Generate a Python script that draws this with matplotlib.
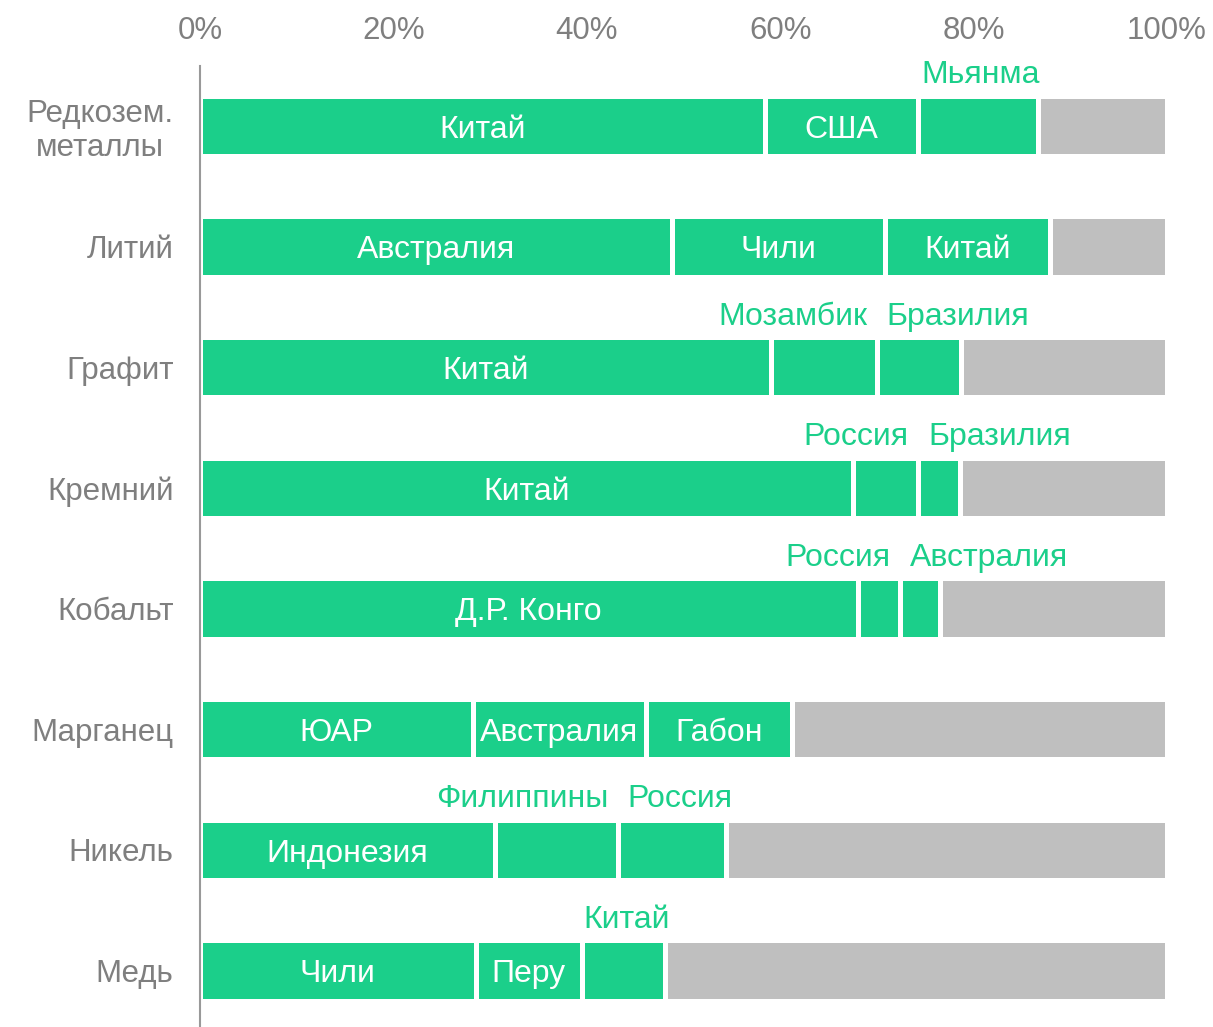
import matplotlib.pyplot as plt

plt.rcParams['font.family'] = ['Liberation Sans', 'DejaVu Sans']

green = '#1bcf8a'
grey = '#bfbfbf'
text_grey = '#7f7f7f'

categories = ['Редкозем.\nметаллы', 'Литий', 'Графит', 'Кремний',
              'Кобальт', 'Марганец', 'Никель', 'Медь']
# top three producers' shares, %
shares = [
    [58.4, 15.8, 12.5],
    [48.8, 22.0, 17.1],
    [59.1, 10.9, 8.7],
    [67.5, 6.8, 4.3],
    [68.0, 4.4, 4.1],
    [28.2, 17.9, 15.1],
    [30.5, 12.7, 11.2],
    [28.5, 11.0, 8.6],
]
countries = [
    ['Китай', 'США', 'Мьянма'],
    ['Австралия', 'Чили', 'Китай'],
    ['Китай', 'Мозамбик', 'Бразилия'],
    ['Китай', 'Россия', 'Бразилия'],
    ['Д.Р. Конго', 'Россия', 'Австралия'],
    ['ЮАР', 'Австралия', 'Габон'],
    ['Индонезия', 'Филиппины', 'Россия'],
    ['Чили', 'Перу', 'Китай'],
]
# which labels sit above the bar instead of inside
outside = [
    [False, False, True],
    [False, False, False],
    [False, True, True],
    [False, True, True],
    [False, True, True],
    [False, False, False],
    [False, True, True],
    [False, False, True],
]

fig = plt.figure(figsize=(12.13, 10.27), dpi=100)
ax = fig.add_axes([200/1213, -4/1027, 967/1213, 965.4/1027])

h = 0.5
fs = 23
for i in range(len(categories)):
    left = 0
    lefts = []
    for s in shares[i]:
        ax.barh(i, s, left=left, height=h, color=green, edgecolor='white', linewidth=3.6)
        lefts.append(left)
        left += s
    ax.barh(i, 100 - left, left=left, height=h, color=grey, edgecolor='white', linewidth=3.6)

    outs = [j for j in range(3) if outside[i][j]]
    for j in range(3):
        c = lefts[j] + shares[i][j] / 2
        if not outside[i][j]:
            ax.text(c, i + 0.03, countries[i][j], ha='center', va='center',
                    color='white', fontsize=fs)
        elif len(outs) == 2:
            b = lefts[outs[1]]
            if j == outs[0]:
                ax.text(b - 1.0, i - 0.42, countries[i][j], ha='right', va='center',
                        color=green, fontsize=fs)
            else:
                ax.text(b + 1.0, i - 0.42, countries[i][j], ha='left', va='center',
                        color=green, fontsize=fs)
        else:
            ax.text(c + 0.3, i - 0.42, countries[i][j], ha='center', va='center',
                    color=green, fontsize=fs)

ax.set_xlim(0, 100)
ax.set_ylim(7.5, -0.5)
ax.xaxis.tick_top()
ax.set_xticks(range(0, 101, 20))
ax.set_xticklabels([f'{t}%' for t in range(0, 101, 20)])
ax.set_yticks(range(len(categories)))
ax.set_yticklabels(categories, linespacing=1.15, multialignment='center')
ax.tick_params(axis='x', length=0, pad=14, labelsize=22.5, labelcolor=text_grey)
ax.tick_params(axis='y', length=0, pad=19, labelsize=22.5, labelcolor=text_grey)
for side in ['top', 'right', 'bottom']:
    ax.spines[side].set_visible(False)
ax.spines['left'].set_color('#999999')
ax.spines['left'].set_linewidth(1.5)

fig.savefig('out.png', dpi=100)
